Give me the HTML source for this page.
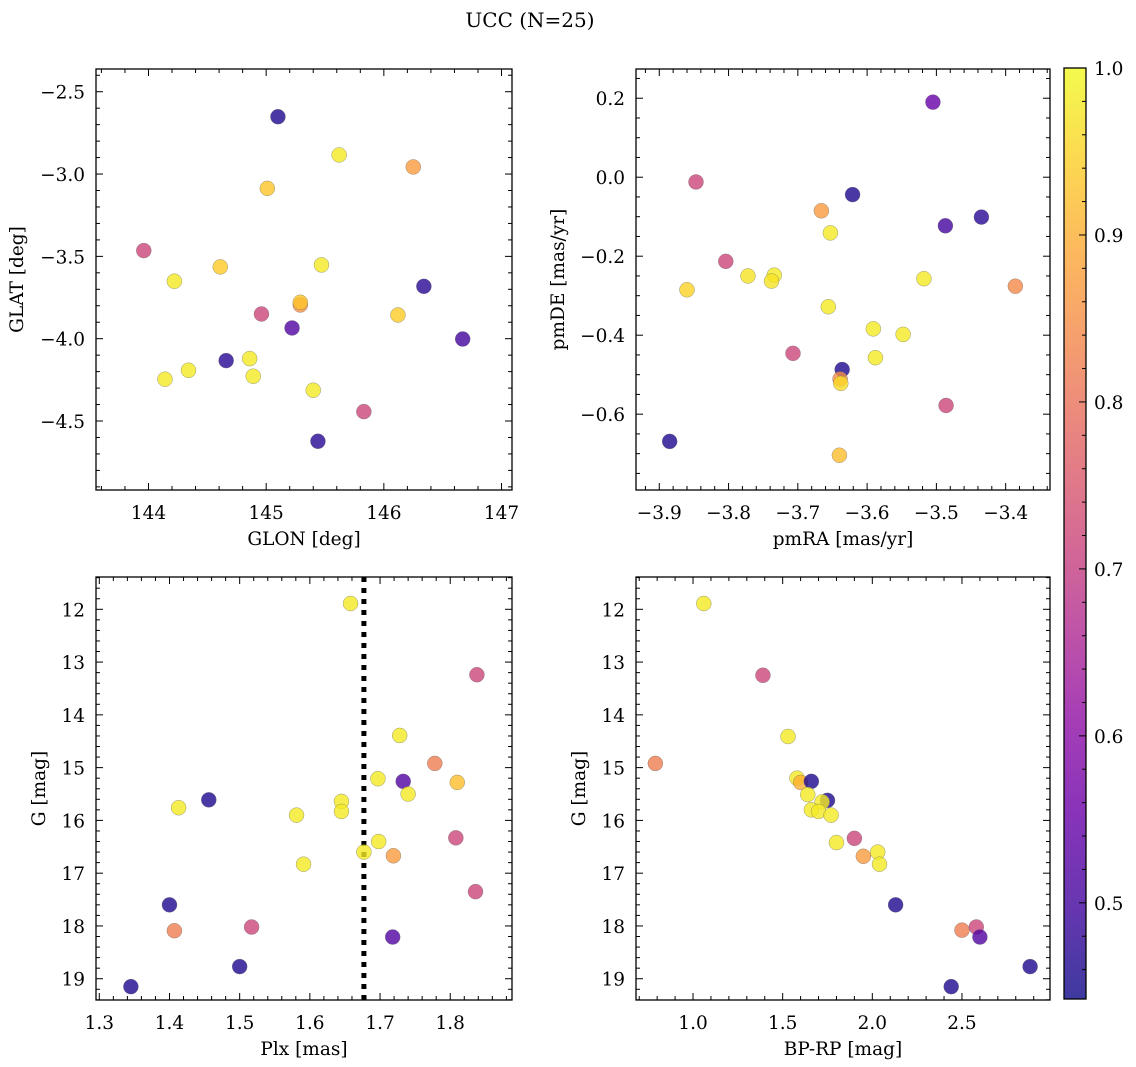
<!DOCTYPE html>
<html><head><meta charset="utf-8">
<style>
html,body{margin:0;padding:0;background:#fff;}
svg{display:block;font-family:"DejaVu Serif","Liberation Serif",serif;}
</style></head>
<body>
<svg id="fig" width="1136" height="1067" viewBox="0 0 1136 1067" xmlns="http://www.w3.org/2000/svg">
<text x="530" y="27" font-size="20" text-anchor="middle">UCC (N=25)</text>
</svg>
<script>
// Panel 1: GLON vs GLAT
const glon = [145.10,145.62,146.25,145.01,143.96,144.22,144.61,145.47,145.29,145.29,144.96,145.22,146.12,146.34,146.67,144.66,144.86,144.34,144.14,144.89,145.40,145.83,145.44];
const glat = [-2.652,-2.884,-2.957,-3.087,-3.465,-3.651,-3.564,-3.552,-3.795,-3.779,-3.850,-3.935,-3.856,-3.682,-4.002,-4.133,-4.121,-4.192,-4.246,-4.228,-4.313,-4.443,-4.623];
const prob1 = [0.46,0.98,0.87,0.93,0.72,0.98,0.94,0.98,0.85,0.93,0.72,0.52,0.94,0.47,0.50,0.47,0.98,0.98,0.98,0.98,0.98,0.72,0.47];
// Panel 2: pmRA vs pmDE
const pmra = [-3.505,-3.847,-3.621,-3.666,-3.435,-3.487,-3.653,-3.804,-3.772,-3.734,-3.738,-3.518,-3.860,-3.386,-3.656,-3.591,-3.548,-3.707,-3.588,-3.636,-3.639,-3.638,-3.486,-3.885,-3.640];
const pmde = [0.190,-0.012,-0.044,-0.085,-0.101,-0.123,-0.141,-0.213,-0.250,-0.248,-0.263,-0.257,-0.285,-0.276,-0.328,-0.384,-0.398,-0.446,-0.457,-0.487,-0.511,-0.522,-0.578,-0.669,-0.704];
const prob2 = [0.55,0.72,0.46,0.87,0.47,0.50,0.98,0.72,0.97,0.98,0.97,0.98,0.95,0.84,0.98,0.98,0.98,0.72,0.98,0.46,0.85,0.96,0.72,0.46,0.92];
// Panel 3: Plx vs G
const plx = [1.658,1.838,1.728,1.778,1.697,1.733,1.810,1.740,1.456,1.413,1.645,1.645,1.581,1.808,1.698,1.677,1.719,1.591,1.836,1.400,1.407,1.517,1.718,1.500,1.345];
const gmag3 = [11.89,13.24,14.39,14.92,15.21,15.26,15.28,15.50,15.61,15.76,15.64,15.83,15.90,16.33,16.40,16.60,16.67,16.83,17.35,17.60,18.09,18.02,18.21,18.77,19.15];
const prob3 = [0.98,0.72,0.98,0.82,0.98,0.52,0.92,0.98,0.46,0.98,0.98,0.98,0.98,0.72,0.98,0.98,0.87,0.98,0.72,0.46,0.82,0.72,0.52,0.46,0.46];
const plxLine = [1.677];
// Panel 4: BP-RP vs G
const bprp = [1.06,1.39,1.53,0.79,1.58,1.60,1.66,1.64,1.75,1.72,1.66,1.70,1.77,1.90,1.80,2.03,1.95,2.04,2.13,2.50,2.58,2.60,2.88,2.44];
const gmag4 = [11.89,13.25,14.41,14.92,15.20,15.28,15.26,15.51,15.62,15.65,15.80,15.83,15.90,16.34,16.42,16.60,16.68,16.83,17.60,18.08,18.02,18.21,18.77,19.15];
const prob4 = [0.98,0.72,0.98,0.82,0.98,0.90,0.46,0.98,0.46,0.98,0.98,0.98,0.98,0.72,0.98,0.98,0.87,0.98,0.46,0.82,0.72,0.52,0.46,0.46];
// tick labels
const ticks1x = [144,145,146,147];
const ticks1y = [-2.5,-3.0,-3.5,-4.0,-4.5];
const ticks2x = [-3.9,-3.8,-3.7,-3.6,-3.5,-3.4];
const ticks2y = [0.2,0.0,-0.2,-0.4,-0.6];
const ticks3x = [1.3,1.4,1.5,1.6,1.7,1.8];
const ticksG = [12,13,14,15,16,17,18,19];
const ticks4x = [1.0,1.5,2.0,2.5];
const ticksCb = [0.5,0.6,0.7,0.8,0.9,1.0];
const cbMin = 0.4424, cbMax = 1.0;

const NS = "http://www.w3.org/2000/svg";
const svg = document.getElementById('fig');
const FS = 18.5;
function el(tag, attrs, parent){
  const e = document.createElementNS(NS, tag);
  for (const k in attrs) e.setAttribute(k, attrs[k]);
  (parent||svg).appendChild(e);
  return e;
}
const stops = ["#0d0887","#41049d","#6a00a8","#8f0da4","#b12a90","#cc4778","#e16462","#f2844b","#fca636","#fcce25","#f0f921"];
function hex(h){return [parseInt(h.substr(1,2),16),parseInt(h.substr(3,2),16),parseInt(h.substr(5,2),16)];}
function plasma(t){
  t=Math.max(0,Math.min(1,t));
  const f=t*10, i=Math.min(9,Math.floor(f)), r=f-i;
  const a=hex(stops[i]), b=hex(stops[i+1]);
  return "rgb("+a.map((v,j)=>Math.round(v+(b[j]-v)*r)).join(",")+")";
}
function cmap(p){return plasma((p-cbMin)/(cbMax-cbMin));}
function fmt(v,dec){return (v<0?"\u2212":"")+Math.abs(v).toFixed(dec);}

function panel(cfg){
  const {x0,x1,y0,y1,xmin,xmax,ymin,ymax,inv,name} = cfg;
  const sx = v => x0+(v-xmin)/(xmax-xmin)*(x1-x0);
  const sy = inv ? (v => y0+(v-ymin)/(ymax-ymin)*(y1-y0)) : (v => y1-(v-ymin)/(ymax-ymin)*(y1-y0));
  const g = el('g',{});
  
  
  const tg = el('g',{stroke:'#000','stroke-width':1},g);
  
  
  const eps=1e-9;
  let s = Math.ceil((Math.min(xmin,xmax))/cfg.xminor-eps)*cfg.xminor;
  for(let v=s; v<=Math.max(xmin,xmax)+eps; v+=cfg.xminor){
    const isMaj = Math.abs(v/cfg.xmajor-Math.round(v/cfg.xmajor))<1e-6;
    const L = isMaj?7:4, x=sx(v);
    el('line',{x1:x,x2:x,y1:y1,y2:y1-L},tg);
    el('line',{x1:x,x2:x,y1:y0,y2:y0+L},tg);
  }
  const lo=Math.min(ymin,ymax), hi=Math.max(ymin,ymax);
  s = Math.ceil(lo/cfg.yminor-eps)*cfg.yminor;
  for(let v=s; v<=hi+eps; v+=cfg.yminor){
    const isMaj = Math.abs(v/cfg.ymajor-Math.round(v/cfg.ymajor))<1e-6;
    const L = isMaj?7:4, y=sy(v);
    el('line',{x1:x0,x2:x0+L,y1:y,y2:y},tg);
    el('line',{x1:x1,x2:x1-L,y1:y,y2:y},tg);
  }
  cfg.xt.forEach(v=>{
    const t=el('text',{x:sx(v),y:y1+29,'font-size':FS,'text-anchor':'middle'},g);
    t.textContent=fmt(v,cfg.xdec);
    
    
  });
  cfg.yt.forEach(v=>{
    const t=el('text',{x:x0-11,y:sy(v)+7,'font-size':FS,'text-anchor':'end'},g);
    t.textContent=fmt(v,cfg.ydec);
    
    
  });
  const xl=el('text',{x:(x0+x1)/2,y:y1+55,'font-size':FS,'text-anchor':'middle'},g);
  xl.textContent=cfg.xlabel;
  
  
  const yx=cfg.ylx, yy=(y0+y1)/2;
  const yl=el('text',{x:yx,y:yy,'font-size':FS,'text-anchor':'middle',transform:'rotate(-90 '+yx+' '+yy+')'},g);
  yl.textContent=cfg.ylabel;
  
  
  if(cfg.vline){
    cfg.vline.forEach(v=>{
      const ln=el('line',{x1:sx(v),x2:sx(v),y1:y0,y2:y1,stroke:'#000','stroke-width':5,'stroke-dasharray':'5 6'},g);
      
      
    });
  }
  const pg=el('g',{},g);
  
  
  cfg.xs.forEach((xv,i)=>{
    const c=el('circle',{cx:sx(xv),cy:sy(cfg.ys[i]),r:7.5,fill:cmap(cfg.ps[i]),'fill-opacity':0.8,stroke:'#666','stroke-width':0.4,'stroke-opacity':0.8},pg);
    
    
  });
  const fr=el('rect',{x:x0,y:y0,width:x1-x0,height:y1-y0,fill:'none',stroke:'#000','stroke-width':1.3},g);
  
  
}

panel({name:'glon-glat',x0:96,x1:512,y0:69,y1:490,xmin:143.554,xmax:147.089,ymin:-4.919,ymax:-2.362,
  xmajor:1,xminor:0.2,ymajor:0.5,yminor:0.1,xt:ticks1x,yt:ticks1y,xdec:0,ydec:1,
  xlabel:'GLON [deg]',ylabel:'GLAT [deg]',ylx:23,xs:glon,ys:glat,ps:prob1});
panel({name:'pm',x0:636,x1:1050,y0:69,y1:490,xmin:-3.9336,xmax:-3.336,ymin:-0.792,ymax:0.274,
  xmajor:0.1,xminor:0.02,ymajor:0.2,yminor:0.05,xt:ticks2x,yt:ticks2y,xdec:1,ydec:1,
  xlabel:'pmRA [mas/yr]',ylabel:'pmDE [mas/yr]',ylx:564,xs:pmra,ys:pmde,ps:prob2});
panel({name:'plx-g',x0:96,x1:512,y0:577,y1:1000,xmin:1.2953,xmax:1.888,ymin:11.388,ymax:19.403,inv:true,
  xmajor:0.1,xminor:0.02,ymajor:1,yminor:0.2,xt:ticks3x,yt:ticksG,xdec:1,ydec:0,
  xlabel:'Plx [mas]',ylabel:'G [mag]',ylx:45,xs:plx,ys:gmag3,ps:prob3,vline:plxLine});
panel({name:'cmd',x0:636,x1:1050,y0:577,y1:1000,xmin:0.682,xmax:2.991,ymin:11.388,ymax:19.403,inv:true,
  xmajor:0.5,xminor:0.1,ymajor:1,yminor:0.2,xt:ticks4x,yt:ticksG,xdec:1,ydec:0,
  xlabel:'BP-RP [mag]',ylabel:'G [mag]',ylx:585,xs:bprp,ys:gmag4,ps:prob4});

(function(){
  const cx0=1064,cx1=1086,cy0=68,cy1=999;
  const g=el('g',{});
  
  
  const defs=el('defs',{},g);
  const lg=el('linearGradient',{id:'cbg',x1:0,y1:1,x2:0,y2:0},defs);
  for(let i=0;i<=20;i++){
    el('stop',{offset:(i/20),'stop-color':plasma(i/20)},lg);
  }
  const r=el('rect',{x:cx0,y:cy0,width:cx1-cx0,height:cy1-cy0,fill:'url(#cbg)','fill-opacity':0.8},g);
  
  
  const sy=v=>cy1-(v-cbMin)/(cbMax-cbMin)*(cy1-cy0);
  for(let v=0.46; v<=1.0001; v+=0.02){
    const maj=Math.abs(v*10-Math.round(v*10))<1e-6;
    el('line',{x1:cx1,x2:cx1-(maj?7:4),y1:sy(v),y2:sy(v),stroke:'#000','stroke-width':1},g);
  }
  ticksCb.forEach(v=>{
    const t=el('text',{x:cx1+8,y:sy(v)+7,'font-size':FS},g);
    t.textContent=v.toFixed(1);
    
    
  });
  const fr=el('rect',{x:cx0,y:cy0,width:cx1-cx0,height:cy1-cy0,fill:'none',stroke:'#000','stroke-width':1.3},g);
  
  
})();
</script>
</body></html>
